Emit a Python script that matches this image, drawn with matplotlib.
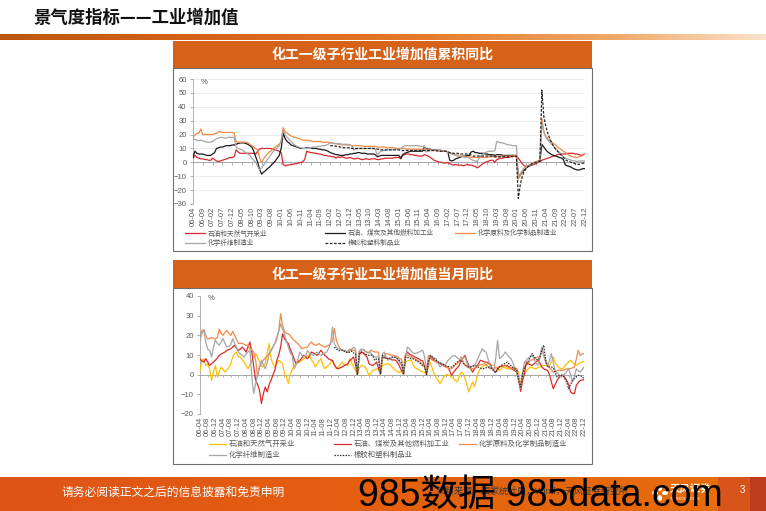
import numpy as np
import pandas as pd
import matplotlib
matplotlib.use("Agg")
import matplotlib.pyplot as plt
from matplotlib.patches import Rectangle, Ellipse
from matplotlib.lines import Line2D
from matplotlib.colors import LinearSegmentedColormap

plt.rcParams['font.family'] = ['Liberation Sans', 'Noto Sans CJK SC', 'DejaVu Sans']
CJK = ['Noto Sans CJK SC', 'DejaVu Sans']

# ---------------- data ----------------
months = pd.date_range('2006-04-01', '2022-12-01', freq='MS').strftime('%y-%m').tolist()

names = ['石油和天然气开采业', '石油、煤炭及其他燃料加工业', '化学原料及化学制品制造业',
         '化学纤维制造业', '橡胶和塑料制品业']

# 累积同比 (%), 2006-04 .. 2022-12
cum_oil_gas = [
    3, 5, 3.5, 3, 2.5, 2.5, 2, 2, 1.5,
    1.5, 3, 2, 1, 0.5, 1, 1.5, 2, 2.5, 3, 3.5, 3.5,
    4, 9, 7.5, 6.5, 6.5, 6.5, 6.5, 6.5, 6.5, 6.5, 6.5, 6,
    8, 9.5, 10, 10, 10, 10, 10, 9.8, 9.5, 9, 8.5, 8,
    7, -1.5, -2.5, -2, -2, -1.5, -1.5, -1, -1, -0.5, 0, 0.5,
    2, 8, 7.5, 7, 7, 6.5, 6.5, 6, 6, 5.5, 5, 5,
    4.5, 4.5, 4, 4, 3, 4, 3.5, 4, 3.5, 3, 3, 3.5,
    3, 2.5, 2.5, 3, 2.5, 2, 2, 2.5, 2.5, 2, 2.5, 2.5,
    2.5, 2, 2, 2.5, 2.5, 3, 3, 3, 3, 3, 3.5, 3.5,
    3.5, 2.5, 5, 5.5, 6, 6, 5.5, 5.5, 5, 5, 4.5, 4.5,
    4.5, 5.5, 5, 4.5, 3.5, 2.5, 1.5, 1, 0.5, 0, 0, -0.5,
    -0.5, 0, -1, -1.5, -2, -1.5, -2, -2, -2, -2.5, -2, -1.5,
    -2, -2, -2.5, -3, -4, -3, -2, -1, 0, 0.5, 1, 1.5,
    1.5, 0, 2, 2.5, 3, 3, 3.5, 3.5, 3.5, 4, 4, 4.5,
    4.5, 3, 1, -1, -2.5, -3, -3, -2.5, -2, -1.5, -1, 0,
    0.5, 1.5, 2, 2.5, 3, 3.5, 4, 4.5, 5, 5.5, 6, 6,
    6, 6, 6.5, 6.5, 6.5, 6.5, 6, 6, 5.5, 5, 5.5, 6,
]
cum_refining = [
    4, 8, 6.5, 6, 6, 6, 5.5, 5, 5,
    5, 6, 7, 10, 10.5, 11, 11, 11.5, 12, 12, 12, 12.5,
    12.5, 13, 13.5, 14, 14, 14, 13.5, 13, 12, 11, 8, 4,
    0, -5, -8.5, -7, -6, -4.5, -3.5, -2, -0.5, 1, 3, 5,
    10, 21, 17, 15, 14, 12.5, 12, 11.5, 11, 10.5, 10, 10,
    10, 10.5, 10.5, 10.5, 10, 10, 10, 9.5, 9.5, 9, 9, 8.5,
    8, 7, 6.5, 6, 5.5, 5.5, 5, 5, 5, 5.5, 5.5, 6,
    6, 6.5, 6.5, 7, 7, 6.5, 6.5, 6.5, 6, 6, 6, 6,
    5.5, 4, 4.5, 5, 5, 5, 5, 5, 5, 5, 5, 5,
    5, 3, 5.5, 6.5, 7, 7.5, 8, 8, 8, 8, 8, 8,
    8, 11, 10, 9.5, 9.5, 9, 9, 9, 8.5, 8.5, 8, 8,
    8, 7.5, 1.5, 1, 1.5, 2.5, 3, 3.5, 4, 4.5, 4.5, 5,
    5, 7.5, 8, 7, 7, 6.5, 6.5, 6.5, 6, 6, 5.5, 5.5,
    5.5, 5, 5.5, 5.5, 5.5, 5, 5, 5, 5, 5, 5, 5,
    5, -11, -9, -7, -5.5, -4, -3, -2, -1.5, -1, 0, 0.5,
    1, 13, 11, 9, 7.5, 6.5, 5.5, 5, 4.5, 4, 3.5, 3,
    2, -2, -2.5, -3, -3.5, -4.5, -5, -5.5, -5.5, -5, -4.5, -4.5,
]
cum_chem = [
    18, 19.5, 21, 21, 24, 20, 20, 20, 20,
    20, 20, 20.5, 21, 22, 22, 21.5, 21.5, 21.5, 21.5, 21.5, 21.5,
    21, 15, 14.5, 14.5, 14.5, 14.5, 14.5, 14, 13, 12, 11, 10,
    9, 3, 0, 2.5, 4.5, 6, 7.5, 8.5, 10, 11, 12, 13,
    15, 25, 22, 21, 20, 19, 18.5, 18, 17.5, 17, 16.5, 16,
    16, 16, 15.5, 15.5, 15, 15, 15, 15, 15, 14.5, 14.5, 14.5,
    14.5, 14, 14, 13.5, 13.5, 13, 13, 12.5, 12.5, 12.5, 12.5, 12.5,
    12, 12, 12, 12, 12, 12, 11.5, 11.5, 11.5, 11.5, 11.5, 11.5,
    11.5, 11, 11, 11, 11, 11, 10.5, 10.5, 10.5, 10.5, 10.5, 10,
    10, 10, 10, 10, 9.5, 9.5, 9.5, 9.5, 9.5, 9.5, 9.5, 9.5,
    9.5, 9.5, 9.5, 9, 9, 9, 8.5, 8.5, 8.5, 8.5, 8, 8,
    8, 7.5, 7, 6.5, 6, 5.5, 5, 4.5, 4.5, 4, 4, 4,
    4, 3.5, 3.5, 3.5, 3.5, 3.5, 3.5, 3.5, 3.5, 3.5, 4, 4,
    4, 4, 4, 4, 4.5, 4.5, 4.5, 4.5, 4.5, 4.5, 5, 5,
    5, -12, -9, -6, -4, -3, -2, -1.5, -1, 0, 0.5, 1,
    2, 31, 22, 19, 17, 16, 14.5, 13.5, 12.5, 11, 10, 9,
    8, 7, 6, 5, 4.5, 4, 3.5, 3.5, 4, 4.5, 5, 6,
]
cum_fiber = [
    17, 16.5, 16, 15.5, 16, 15.5, 15, 14.5, 14.5,
    14.5, 15, 16, 17, 17.5, 18, 18, 17.5, 17.5, 18, 18, 18,
    18, 11, 10, 9.5, 9, 8, 7, 6, 5, 3, 1.5, 0,
    -3, -5.5, -4, -2, 0, 2, 4, 6, 8, 9, 10.5, 12,
    16, 23, 20, 18, 16.5, 15, 13.5, 12.5, 11.5, 11, 10.5, 10,
    10, 10, 10.5, 10.5, 11, 11, 11, 11.5, 11.5, 12, 12, 12.5,
    13, 14, 14, 13.5, 13.5, 13.5, 13.5, 13, 13, 13, 13, 12.5,
    12, 9, 9.5, 10, 10, 10, 10, 10, 10, 10, 10, 10,
    9.5, 5, 7, 8, 8.5, 8.5, 9, 9, 9, 9, 9.5, 9.5,
    9.5, 10, 11, 12, 12, 12, 12, 12, 12, 12, 12, 11.5,
    11.5, 12, 7.5, 8, 8.5, 9, 9, 9, 9, 9, 8.5, 8,
    8, 7, 6.5, 6, 5.5, 5, 4.5, 4.5, 4, 4, 3.5, 3.5,
    3, 2, 1.5, 1, 0.5, 3, 5, 6, 7, 7.5, 8, 8,
    8, 8.5, 15, 14.5, 14, 14, 13.5, 13, 12.5, 12.5, 12, 12,
    12, -10, -8, -6, -4.5, -3.5, -2.5, -2, -1.5, -1, 0, 0.5,
    1.5, 28, 22, 18, 16, 14.5, 13, 11.5, 10, 8.5, 7, 5.5,
    4, 3, 2.5, 2, 1.5, 1, 1, 0.5, 1, 1, 1, 1,
]
cum_rubber = [np.nan] * 70 + [
    12, 12, 12, 11.5, 11.5, 11, 11, 10.5, 10.5, 10.5, 10.5,
    10, 10, 10, 10, 10, 10, 10, 10, 10, 10, 10, 10,
    10, 9.5, 9.5, 9, 9, 9, 9, 9, 9, 9, 9, 9,
    9, 8.5, 8.5, 8.5, 8.5, 8.5, 8.5, 8.5, 8.5, 8.5, 8.5, 8.5,
    8.5, 8.5, 8.5, 8.5, 8.5, 8.5, 8.5, 8.5, 8, 8, 8, 8,
    8, 7.5, 7, 6.5, 6.5, 6.5, 6.5, 6, 6, 6, 6, 6,
    6, 5, 4.5, 4.5, 4.5, 4.5, 4.5, 4.5, 4.5, 4.5, 4.5, 4.5,
    4.5, 4, 4, 4, 4, 4, 4, 4, 4, 4, 4.5, 4.5,
    4.5, -26, -16, -10, -6.5, -4.5, -3, -2, -1, -0.5, 0, 0.5,
    1, 52, 33, 26, 21, 17, 14, 11.5, 9.5, 8, 6.5, 5,
    3.5, 2, 1, 0.5, 0, -0.5, -1, -1.5, -1.5, -1, -0.5, -0.5,
]

# 当月同比 (%), 2006-04 .. 2022-12
mon_oil_gas = [
    2.2, 7.3, 8, 4.7, 5.6, 3, -2.9, 1.4, 4.7,
    -1.2, 1.5, 3.9, 2.5, 1.4, 2.5, 3.6, 5.5, 9, 10.5, 11.5, 9,
    9, 7.5, 6.4, 4.5, 3, 5, 7.3, 9, 10.7, 9, 6.5, 4.5,
    3.9, 6, 11, 15.8, 8, 5.5, 3.9, 5.5, 7.3, 6.5, 5.6, 0.5,
    -1, -4.6, 0.5, 2.5, 4.7, 5.5, 6, 6.5, 7.3, 8, 8.5, 9.5,
    9.8, 7.5, 6.4, 3.9, 5.5, 7, 8.1, 5, 3, 4, 4.7, 6,
    7.3, 5, 3, 4, 5, 6.4, 5.5, 5, 4.7, 8.1, 6, 4,
    2.2, 0, 3.5, 4.7, 4.5, 3.9, 2, -0.3, 1, 2.2, 2.5, 3,
    3, 0, 4.7, 5, 5.5, 5.6, 5, 4, 3, 2, 1.5, 1,
    2, 0, 6.4, 7, 7.3, 7.3, 5, 3.5, 3, 2.5, 2, 1.3,
    1.3, 0, 4, 6.4, 3, 0.5, -1.5, -2.9, -4.6, -3, -1, 0,
    0, -0.5, -1.2, -2, -3, -3.7, -1, 1.3, 0.5, -2, -5, -8.8,
    -6, -3.7, -6.3, -2, 1.3, 3, 4, 4.7, 5, 5.6, 5, 4.7,
    4.7, 3.5, 3, 2.2, 3, 3.9, 3.5, 3, 3, 3.5, 3.7, 3.9,
    2.5, 1.3, -5.4, -2, 0.5, 2, 3, 3.9, 3.5, 3.2, 3, 3.5,
    4, 4.5, 4.7, 4.7, 4.7, 4.7, 6.5, 9, 6, 4.7, 3.5, 3,
    3, 4.5, 5.6, 6.5, 7.3, 6, 5.5, 4.7, 5.5, 6, 6.4, 6.8,
]
mon_refining = [
    8, 7, 6.4, 8.1, 6.5, 4.7, 5.5, 6.5, 7.3,
    8.5, 9.8, 10.5, 11, 11.5, 12.4, 12.8, 13.2, 14, 14.9, 13.5, 12.4,
    13, 14, 13, 11.5, 14, 16.6, 11.5, 3.9, -2.9, -5, -8, -14.7,
    -9.6, -6.3, -8.8, -5, -2.9, 0, 2.2, 7.3, 10, 14, 20.8, 18.3,
    17, 15.8, 13, 10.7, 8, 5.6, 6.5, 7.3, 8.5, 9.8, 9, 8.1,
    9.5, 11.5, 11, 10.5, 9.8, 11, 12.4, 11, 9.8, 9, 8, 7.5,
    7.3, 5, 3.5, 3, 3.5, 3.9, 4.5, 5, 5.6, 7.3, 8, 9,
    5, 0, 10, 11.5, 11, 10, 9, 5.6, 5, 4.7, 5.5, 6.4,
    3, 0.5, 9, 8.5, 8.5, 8.1, 8, 7.5, 7.5, 7.3, 6, 4,
    2, 0.5, 9.8, 11.5, 10.5, 10, 9.5, 9, 8.5, 8, 7.3, 7,
    4, 0.5, 6, 9, 8, 7.3, 6.5, 6, 5.6, 5, 4.5, 4,
    3.9, 2, -0.3, 1, 2.5, 3.5, 4.7, 7, 8.5, 9.8, 7, 4.7,
    3, 1.3, 3, 3.9, 5.5, 7.3, 7, 6.5, 6.4, 6, 5.6, 3.5,
    2, 1.3, 3, 3.9, 4.2, 4.5, 4.7, 4.7, 4, 3, 2.5, 2,
    1.3, -3, -8.5, -3, 0.5, 6.4, 5.5, 5, 4.7, 5.5, 6.5, 7.3,
    6, 3.9, 3, 2.5, 2.2, 0, -3.7, -7.1, -5, -2.9, -1.5, -0.5,
    -0.3, -1.5, -2.9, -5, -8.8, -9.5, -9.7, -5.4, -4, -2.9, -2.7, -2.6,
]
mon_chem = [
    17.5, 22.5, 22.9, 20, 18, 18.5, 18.8, 18.5, 18,
    18.8, 23.2, 21, 20, 21.5, 22.5, 21, 20, 22, 20, 18, 15.8,
    16, 15.8, 15.5, 15, 14.9, 13.2, 12.5, 11.5, 7.3, -1.2, 3.9, 5.5,
    7.3, 8.5, 9.5, 10.7, 12.5, 14, 15.8, 18, 22.5, 31, 25, 22,
    21, 20.8, 20, 18.5, 17.5, 16.5, 15.8, 14.5, 13.2, 13.5, 13.8, 14,
    15.5, 16.6, 15.5, 14.9, 15.2, 15.8, 15, 14.5, 14, 14.5, 15, 15.8,
    17.5, 23.4, 17.5, 15, 13.2, 12.5, 12, 11.5, 12, 13, 12.5, 12.5,
    12, 0, 12, 12.5, 13, 12, 11.5, 11, 12.4, 12, 11.5, 11.5,
    11.5, 0, 9, 10, 10.7, 10.5, 10, 10, 9.8, 9.5, 9, 8,
    8, 0.5, 10.7, 10, 9.5, 9, 8.5, 8, 7.3, 7, 6, 5,
    4, 3, 9.8, 8.5, 7.3, 7, 6.5, 6.4, 6, 5.5, 5, 4,
    3.5, 3, 3, 4, 5, 5.6, 7, 9, 7, 4.7, 4, 3.5,
    3, 3, 3.5, 4, 4.7, 5, 5.3, 5.6, 5, 4, 3, 3,
    3, 3.5, 3.9, 4, 4.5, 4.7, 4.5, 4, 3.5, 3, 3, 3.5,
    3, -3, -7, 1, 3.9, 5, 6, 7.3, 7.5, 8, 8.5, 9,
    9, 13.2, 10, 7, 4.7, 3.5, 2.5, 1.3, 1.5, 2, 2.2, 2.2,
    2.2, 2.5, 3, 3, 3, 3.5, 3.9, 8, 12.4, 9.8, 10.5, 10.7,
]
mon_fiber = [
    18, 21, 22.5, 16.6, 13, 12.4, 9, 14, 17.5,
    16, 15, 16.5, 18.3, 16, 14, 14.5, 15, 18.3, 16, 14, 11.5,
    10.5, 10, 9, 10.5, 11.5, 12.4, -1.2, -9.6, -4.6, 0, 3.9, 7.3,
    5, 3, 6, 10.7, 12, 14, 16, 19, 22, 25.9, 23, 20.8,
    17, 14, 11, 9.8, 3, 4.7, 8, 11.5, 10, 9, 9.5, 12.4,
    11, 10.5, 9.8, 10.5, 11.5, 10.5, 9.8, 10.5, 11, 11.5, 13.5, 15.8,
    24.2, 15.8, 14, 13.2, 13, 12.8, 12.4, 12, 11.5, 12, 13, 14,
    13, 0, 12, 13, 12.5, 12, 11, 11.5, 11, 10, 9, 9,
    9, 0.5, 10.7, 11.5, 9, 7.3, 8, 8.5, 9, 9, 8, 6,
    5, 0.5, 8, 14, 13.2, 12, 11, 10.7, 11, 11.5, 12, 12.4,
    9, 1.3, 6, 9.8, 9, 8.5, 8.1, 6, 3.9, 4.5, 5, 5.6,
    7, 8.1, 9, 9.8, 9.5, 8.5, 7.8, 7.3, 8.5, 9, 6, 3.9,
    4, 4.5, 4.7, 6.5, 9, 11, 13.2, 12, 11.5, 8, 4.7, 3,
    2.2, 8, 17.5, 8.1, 9, 10, 11.5, 10, 9, 8.1, 6, 3,
    2, -2, -5.4, 1, 6.4, 7.5, 8.5, 9, 9.8, 8, 6, 4.7,
    8, 14, 10, 6, 4.7, 7, 10.7, 6, 2.2, 1, 0, -1.2,
    -0.5, 0.5, 1.5, 3, 0, -3.7, -1, 3, 2, 1.3, 2.5, 3.9,
]
mon_rubber = [np.nan] * 70 + [
    14, 13, 12.5, 12, 12.5, 12, 11.5, 11, 11.5, 12, 11,
    10.5, 0, 11, 11.5, 11, 10.5, 10, 9.8, 10, 9.5, 7.3, 8,
    8, 0.5, 9.8, 9, 8.5, 8.1, 8.5, 9, 9, 8.5, 8, 7,
    6, 0, 9, 8.8, 8.5, 8.1, 8.1, 7.5, 7, 6.4, 5.5, 4.5,
    4, 0, 7, 9.8, 9, 8, 7.3, 6.5, 6, 5.6, 5, 4.5,
    4.2, 4, 3.9, 4.5, 5.5, 6.4, 7, 7.3, 6, 5, 4.5, 3.9,
    3.9, 4.2, 4.7, 4.5, 3.8, 3.3, 3, 3.2, 3.5, 3.7, 3.9, 3,
    2, 1, 2.5, 4, 4.7, 5.2, 5.8, 6.4, 5.5, 4.5, 3.5, 3,
    2, -3, -6.3, 0, 4, 4.7, 7, 9, 10.7, 9, 8, 7.3,
    9, 12, 15, 8, 3.9, 4, 3.9, 3.5, 1, -1.2, -0.5, -0.3,
    -0.3, -2, -4, -7.1, -5, -3, -2, -1, -0.3, -0.5, -1, -2,
]

# ---------------- layout helpers (pixel -> figure) ----------------
W, H = 766, 511


def box(x0, y0, x1, y1):
    return [x0 / W, 1 - y1 / H, (x1 - x0) / W, (y1 - y0) / H]


def rect(x0, y0, x1, y1, **kw):
    fig.add_artist(Rectangle((x0 / W, 1 - y1 / H), (x1 - x0) / W, (y1 - y0) / H,
                             transform=fig.transFigure, **kw))


def ftext(x, y, s, **kw):
    fig.text(x / W, 1 - y / H, s, **kw)


def gradient_strip(b, colors, stops):
    a = fig.add_axes(b)
    cmap = LinearSegmentedColormap.from_list('g', list(zip(stops, colors)))
    a.imshow(np.linspace(0, 1, 512)[None, :], aspect='auto', cmap=cmap, extent=[0, 1, 0, 1])
    a.set_xlim(0, 1)
    a.set_ylim(0, 1)
    a.axis('off')
    return a


def legend_item(x, y, color, dashes, label, size, length):
    ln = Line2D([x / W, (x + length) / W], [1 - y / H] * 2, transform=fig.transFigure,
                color=color, lw=0.9)
    if dashes:
        ln.set_dashes(dashes)
    fig.add_artist(ln)
    ftext(x + length + 2.5, y, label, fontsize=size, color='#595959', va='center',
          family=CJK)


def draw_chart(ax, series, colors, dash_list, ylo, yhi, step, grid):
    x = np.arange(len(months))
    for vals, c, d in zip(series, colors, dash_list):
        ln, = ax.plot(x, vals, color=c, lw=0.9, zorder=3)
        if d:
            ln.set_dashes(d)
    ax.set_xlim(0, len(months) - 1)
    ax.set_ylim(ylo, yhi)
    ax.set_yticks(np.arange(ylo, yhi + 1, 10))
    xt = np.arange(0, len(months), step)
    ax.set_xticks(xt)
    ax.set_xticklabels([months[i] for i in xt], rotation=90)
    ax.tick_params(axis='x', length=0, pad=2, labelsize=5.5, labelcolor='#595959')
    ax.tick_params(axis='y', length=2.5, width=0.6, pad=2, labelsize=5.5,
                   color='#A6A6A6', labelcolor='#595959')
    for s in ['top', 'right', 'bottom']:
        ax.spines[s].set_visible(False)
    ax.spines['left'].set_color('#A6A6A6')
    ax.spines['left'].set_linewidth(0.6)
    if grid:
        ax.yaxis.grid(True, color='#E6E6E6', lw=0.5)
        ax.set_axisbelow(True)
    # zero line with its small category ticks
    tick = (yhi - ylo) * 0.022
    ax.axhline(0, color='#A6A6A6', lw=0.7, zorder=2)
    ax.vlines(xt, -tick, 0, color='#A6A6A6', lw=0.6, zorder=2)
    ax.text(0.02, 0.975, '%', transform=ax.transAxes, fontsize=5.5, color='#595959',
            va='center', ha='left')


fig = plt.figure(figsize=(W / 100, H / 100), dpi=100)
fig.patch.set_facecolor('white')

# page title + orange rule
ftext(33, 18, '景气度指标——工业增加值', fontsize=12.5, fontweight='bold', color='#111111',
      va='center', family=CJK)
gradient_strip(box(0, 34, W, 40),
               ['#BD570E', '#D8641A', '#E57A28', '#F0A868', '#FBE2CA'],
               [0, 0.3, 0.55, 0.8, 1])

header = '#D66219'

# ---------------- chart 1 ----------------
rect(173, 68, 592, 251, facecolor='white', edgecolor='#6E6E6E', lw=0.8, zorder=-5)
rect(173, 41, 592, 68, facecolor=header, edgecolor='none', zorder=-4)
ftext(382.5, 54.5, '化工一级子行业工业增加值累积同比', fontsize=10, fontweight='bold',
      color='white', ha='center', va='center', family=CJK)

c1_colors = ['#D7282E', '#1A1A1A', '#F28A45', '#A6A6A6', '#262626']
c1_dashes = [None, None, None, None, (2.2, 1.2)]
ax1 = fig.add_axes(box(193, 79, 585, 204))
ax1.patch.set_alpha(0)
draw_chart(ax1, [cum_oil_gas, cum_refining, cum_chem, cum_fiber, cum_rubber],
           c1_colors, c1_dashes, -30, 60, 5, True)

for row, col, k in [(0, 0, 0), (0, 1, 1), (0, 2, 2), (1, 0, 3), (1, 1, 4)]:
    legend_item([185, 325, 455][col], [233.5, 243.5][row], c1_colors[k], c1_dashes[k],
                names[k], 4.8, 20)

# ---------------- chart 2 ----------------
rect(173, 288, 592, 464, facecolor='white', edgecolor='#6E6E6E', lw=0.8, zorder=-5)
rect(173, 260, 592, 288, facecolor=header, edgecolor='none', zorder=-4)
ftext(382.5, 274.5, '化工一级子行业工业增加值当月同比', fontsize=10, fontweight='bold',
      color='white', ha='center', va='center', family=CJK)

c2_colors = ['#FFC000', '#D92B2B', '#F4894A', '#A6A6A6', '#333333']
c2_dashes = [None, None, None, None, (1.2, 1.0)]
ax2 = fig.add_axes(box(200, 296, 584, 414))
ax2.patch.set_alpha(0)
draw_chart(ax2, [mon_oil_gas, mon_refining, mon_chem, mon_fiber, mon_rubber],
           c2_colors, c2_dashes, -20, 40, 4, False)

for row, col, k in [(0, 0, 0), (0, 1, 1), (0, 2, 2), (1, 0, 3), (1, 1, 4)]:
    legend_item([209, 334, 459][col], [443.5, 455][row], c2_colors[k], c2_dashes[k],
                names[k], 5.3, 17)

# ---------------- footer ----------------
foot = gradient_strip(box(0, 477, W, H), ['#DE5418', '#E4600F', '#E86E0C'], [0, 0.5, 1])
foot.add_patch(Rectangle((718 / W, 0), 32 / W, 1, facecolor='#D9541A', edgecolor='none'))
foot.add_patch(Rectangle((750 / W, 0), 16 / W, 1, facecolor='#BE3B1E', edgecolor='none'))

ftext(62, 492, '请务必阅读正文之后的信息披露和免责申明', fontsize=8.5, color='white',
      va='center', family=CJK)
ftext(437, 491, '资料来源：国家统计局，Wind，天风证券研究所', fontsize=6.5, color='#3A3A3A',
      va='center')

# logo
for dx, dy, w, h in [(0, -5, 4, 6), (-5, 0, 6, 4), (5, 0, 6, 4), (0, 5, 4, 6), (-4, 6, 4, 4)]:
    fig.add_artist(Ellipse(((660 + dx) / W, 1 - (493 + dy) / H), w / W, h / H,
                           transform=fig.transFigure, facecolor='white', edgecolor='none'))
ftext(670, 489, '天风证券', fontsize=7.5, fontweight='bold', color='white', va='center',
      family=CJK)
ftext(670, 499, 'TF SECURITIES', fontsize=2.8, color='white', va='center')
ftext(740, 490, '3', fontsize=7, color='white', va='center')

# site watermark across the footer
ftext(358, 506, '985数据 985data.com', fontsize=27, color='black', va='baseline')

fig.savefig('out.png', dpi=100)
